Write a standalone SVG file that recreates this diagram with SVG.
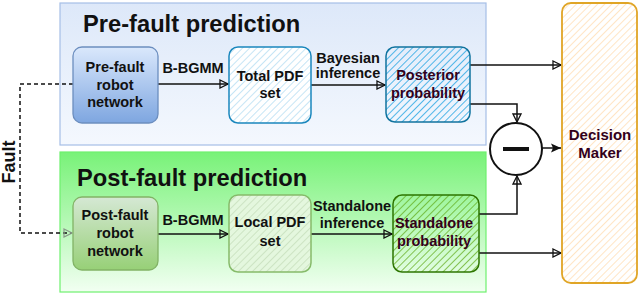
<svg xmlns="http://www.w3.org/2000/svg" width="640" height="295" viewBox="0 0 640 295">
<style>
text{font-family:"Liberation Sans",Arial,Helvetica,sans-serif;font-weight:bold;text-anchor:middle;fill:#111}
.t{font-size:14.5px}
.p{fill:#33001a}
.ttl{font-size:23.7px;text-anchor:start}
.c{fill:none;stroke:#111;stroke-width:1.5}
</style>
<defs>
<linearGradient id="gPre" x1="0" y1="0" x2="0" y2="1"><stop offset="0" stop-color="#dde8f9"/><stop offset="1" stop-color="#f4f8fe"/></linearGradient>
<linearGradient id="gPost" x1="0" y1="0" x2="0" y2="1"><stop offset="0" stop-color="#78f278"/><stop offset="1" stop-color="#f2fff2"/></linearGradient>
<linearGradient id="gBlue" x1="0" y1="0" x2="0" y2="1"><stop offset="0" stop-color="#dae8fc"/><stop offset="1" stop-color="#7ea6e0"/></linearGradient>
<linearGradient id="gGreen" x1="0" y1="0" x2="0" y2="1"><stop offset="0" stop-color="#d5e8d4"/><stop offset="1" stop-color="#97d077"/></linearGradient>
<pattern id="hTot" width="5" height="5" patternUnits="userSpaceOnUse" patternTransform="rotate(45)"><line x1="0" y1="0" x2="0" y2="5" stroke="#9fd3ef" stroke-width="1.2"/></pattern>
<pattern id="hPost" width="5" height="5" patternUnits="userSpaceOnUse" patternTransform="rotate(45)"><line x1="0" y1="0" x2="0" y2="5" stroke="#1ba1e2" stroke-width="1.5"/></pattern>
<pattern id="hLoc" width="5" height="5" patternUnits="userSpaceOnUse" patternTransform="rotate(45)"><line x1="0" y1="0" x2="0" y2="5" stroke="#b9d2ad" stroke-width="1.1"/></pattern>
<pattern id="hStd" width="5" height="5" patternUnits="userSpaceOnUse" patternTransform="rotate(45)"><line x1="0" y1="0" x2="0" y2="5" stroke="#60a917" stroke-width="1.4"/></pattern>
<pattern id="hDM" width="5" height="5" patternUnits="userSpaceOnUse" patternTransform="rotate(45)"><line x1="0" y1="0" x2="0" y2="5" stroke="#ffd49e" stroke-width="1.2"/></pattern>
<marker id="aO" markerWidth="10" markerHeight="10" refX="9" refY="5" orient="auto" markerUnits="userSpaceOnUse"><path d="M1,1 L9,5 L1,9 Z" fill="none" stroke="#111" stroke-width="1.3"/></marker>
<marker id="aG" markerWidth="10" markerHeight="10" refX="9" refY="5" orient="auto" markerUnits="userSpaceOnUse"><path d="M1,1 L9,5 L1,9 Z" fill="none" stroke="#8a9a8a" stroke-width="1.2"/></marker>
<marker id="aF" markerWidth="12" markerHeight="12" refX="11" refY="6" orient="auto" markerUnits="userSpaceOnUse"><path d="M1,1.5 L11,6 L1,10.5 L3,6 Z" fill="#111"/></marker>
</defs>

<g id="pre-fault-container">
<rect x="60" y="3" width="426" height="142" fill="url(#gPre)" stroke="#a6bfe6" stroke-width="1.2"/>
<text class="ttl" x="83" y="32">Pre-fault prediction</text>
</g>
<g id="post-fault-container">
<rect x="60" y="152" width="426" height="140" fill="url(#gPost)" stroke="#6ef06e" stroke-width="1.2"/>
<text class="ttl" x="77" y="186">Post-fault prediction</text>
</g>

<g id="connectors">
<path class="c" d="M158,84 H228" marker-end="url(#aO)"/>
<path class="c" d="M311,85 H385" marker-end="url(#aO)"/>
<path class="c" d="M470,65 H561" marker-end="url(#aO)"/>
<path class="c" d="M470,104 H517 V122" marker-end="url(#aO)"/>
<path class="c" d="M542,148 H561" marker-end="url(#aF)"/>
<path class="c" d="M158,234 H228" marker-end="url(#aO)"/>
<path class="c" d="M311,234 H392" marker-end="url(#aO)"/>
<path class="c" d="M479,214 H517 V176" marker-end="url(#aO)"/>
<path class="c" d="M479,253 H561" marker-end="url(#aO)"/>
<path d="M73,84 H20 V233 H72" fill="none" stroke="#111" stroke-width="1.5" stroke-dasharray="4 3" marker-end="url(#aG)"/>
<text x="15" y="162" transform="rotate(-90 15 162)" style="font-size:18px">Fault</text>
<text class="t" x="193" y="73">B-BGMM</text>
<text class="t" x="348" y="63">Bayesian</text>
<text class="t" x="348" y="77.5">inference</text>
<text class="t" x="193" y="225">B-BGMM</text>
<text class="t" x="352" y="211">Standalone</text>
<text class="t" x="352" y="228">inference</text>
</g>

<g id="pre-fault-robot-network">
<rect x="73" y="47" width="85" height="76" rx="9" fill="url(#gBlue)" stroke="#6c8ebf" stroke-width="1.3"/>
<text class="t" x="115" y="72">Pre-fault</text>
<text class="t" x="115" y="89.5">robot</text>
<text class="t" x="115" y="107">network</text>
</g>
<g id="total-pdf-set">
<rect x="229" y="47" width="82" height="76" rx="9" fill="#fff"/>
<rect x="229" y="47" width="82" height="76" rx="9" fill="url(#hTot)" stroke="#1a87bd" stroke-width="1.5"/>
<text class="t" x="270" y="81">Total PDF</text>
<text class="t" x="270" y="98">set</text>
</g>
<g id="posterior-probability">
<rect x="386" y="47" width="84" height="75" rx="9" fill="url(#hPost)" stroke="#10739e" stroke-width="1.5"/>
<text class="t p" x="428" y="80">Posterior</text>
<text class="t p" x="428" y="98">probability</text>
</g>
<g id="post-fault-robot-network">
<rect x="73" y="197" width="85" height="73" rx="9" fill="url(#gGreen)" stroke="#82b366" stroke-width="1.3"/>
<text class="t" x="115" y="220">Post-fault</text>
<text class="t" x="115" y="238">robot</text>
<text class="t" x="115" y="256">network</text>
</g>
<g id="local-pdf-set">
<rect x="229" y="195" width="82" height="77" rx="9" fill="#e4f7de"/>
<rect x="229" y="195" width="82" height="77" rx="9" fill="url(#hLoc)" stroke="#86bb6a" stroke-width="1.5"/>
<text class="t" x="270" y="227">Local PDF</text>
<text class="t" x="270" y="246">set</text>
</g>
<g id="standalone-probability">
<rect x="393" y="195" width="86" height="77" rx="9" fill="url(#hStd)" stroke="#2d7600" stroke-width="1.5"/>
<text class="t p" x="434" y="228">Standalone</text>
<text class="t p" x="434" y="246">probability</text>
</g>
<g id="subtract">
<circle cx="516" cy="149" r="26" fill="#fff" stroke="#111" stroke-width="2"/>
<line x1="503" y1="149" x2="529" y2="149" stroke="#111" stroke-width="4"/>
</g>
<g id="decision-maker">
<rect x="562" y="3" width="75" height="280" rx="9" fill="#fff"/>
<rect x="562" y="3" width="75" height="280" rx="9" fill="url(#hDM)" stroke="#e0a526" stroke-width="1.8"/>
<text class="p" x="600" y="140" style="font-size:15px">Decision</text>
<text class="p" x="600" y="158" style="font-size:15px">Maker</text>
</g>
</svg>
